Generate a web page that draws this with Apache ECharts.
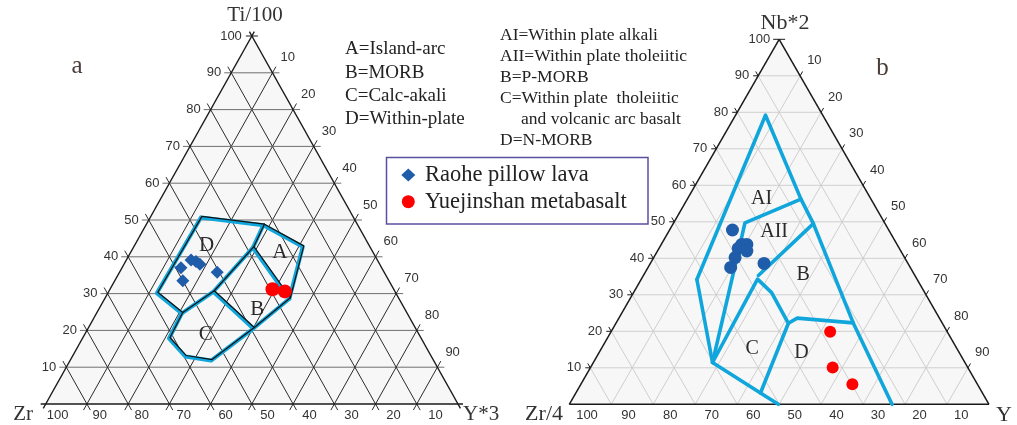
<!DOCTYPE html>
<html><head><meta charset="utf-8">
<script src="https://cdn.jsdelivr.net/npm/echarts/dist/echarts.min.js"></script>
<style>html,body{margin:0;padding:0;background:#fff}#c{width:1017px;height:425px}</style>
</head><body><div id="c"></div>
<script>
// ---------- tick values ----------
const gridTicks = [10, 20, 30, 40, 50, 60, 70, 80, 90];
const topEdgeLabels = [100, 90, 80, 70, 60, 50, 40, 30, 20, 10];   // apex component (left edge)
const rightEdgeLabels = [10, 20, 30, 40, 50, 60, 70, 80, 90];      // right-vertex component (right edge)
const bottomLabels = [100, 90, 80, 70, 60, 50, 40, 30, 20, 10];     // left-vertex component (bottom)

// ---------- diagram a : [Ti/100, Zr, Y*3] ----------
const aOutline = [[50.7,37.0,12.3],[48.6,22.9,28.5],[42.7,16.3,41.0],[28.6,26.6,44.8],[20.5,39.4,40.1],[11.8,54.0,34.2],[12.9,59.7,27.4],[17.8,61.2,21.0],[24.6,54.7,20.7],[30.1,58.0,11.9],[50.7,37.0,12.3]];
const aBoundaryA = [[48.6,22.9,28.5],[42.5,28.5,29.0],[28.6,26.6,44.8]];
const aBoundaryD = [[42.5,28.5,29.0],[30.5,44.1,25.4],[24.6,54.7,20.7]];
const aBoundaryBC = [[30.5,44.1,25.4],[20.5,39.4,40.1]];
const aRaohe = [[37.0,48.7,14.3],[33.5,50.0,16.5],[39.1,45.2,15.7],[38.7,44.2,17.1],[38.0,43.6,18.4],[35.8,40.5,23.7]];
const aYuejinshan = [[31.2,29.4,39.4],[30.6,26.7,42.7]];
const aRegionNames = ['D', 'A', 'B', 'C'];
const aRegionPos = [[43.2,39.35,17.45],[41.2,22.6,36.2],[25.8,35.8,38.4],[19.0,51.7,29.3]];

// ---------- diagram b : [Nb*2, Zr/4, Y] ----------
const bLine1 = [[34.2,52.5,13.3],[79.2,13.65,7.15],[56.2,16.7,27.1],[49.5,17.1,33.4],[22.3,21.2,56.5],[0,23.1,76.9]];
const bLine2 = [[34.2,52.5,13.3],[11.45,60.15,28.4],[3.1,52.9,44.0],[0,50.2,49.8]];
const bLine3 = [[56.2,16.7,27.1],[49.7,33.3,17.0],[45.4,36.3,18.3],[11.45,60.15,28.4]];
const bLine4 = [[49.5,17.1,33.4],[35.3,37.3,27.4]];
const bLine5 = [[11.45,60.15,28.4],[34.3,38.0,27.7],[30.6,36.5,32.9],[22.2,36.7,41.1],[3.1,52.9,44.0]];
const bLine6 = [[22.2,36.7,41.1],[23.6,33.9,42.5],[22.3,21.2,56.5]];
const bRaohe = [[47.75,37.25,15.0],[43.8,37.0,19.2],[43.8,35.8,20.4],[42.0,36.7,21.3],[42.7,38.4,18.9],[40.2,40.4,19.4],[37.5,42.8,19.7],[38.6,34.3,27.1]];
const bYuejinshan = [[19.9,27.9,52.2],[10.1,32.2,57.7],[5.5,29.8,64.7]];
const bRegionNames = ['AI', 'AII', 'B', 'C', 'D'];
const bRegionPos = [[56.2,26.1,17.7],[47.2,27.6,25.2],[35.5,26.5,38.0],[15.2,48.8,36.0],[14.05,37.65,48.3]];

// ---------- helpers ----------
const toXY = p => [p[2] + p[0] / 2, p[0]];
const SANS = '"Liberation Sans", Arial, sans-serif';
const SERIF = '"Liberation Serif", "Times New Roman", serif';

function extendSeg(p, q, e1, e2) {
  const dx = q[0] - p[0], dy = q[1] - p[1], L = Math.hypot(dx, dy) || 1;
  const ux = dx / L, uy = dy / L;
  return [[p[0] - ux * e1, p[1] - uy * e1], [q[0] + ux * e2, q[1] + uy * e2]];
}
function segEl(a, b, color, w) {
  return { type: 'line', shape: { x1: a[0], y1: a[1], x2: b[0], y2: b[1] }, style: { stroke: color, lineWidth: w } };
}
function txt(x, y, s, font, fill, align, valign) {
  return { type: 'text', x: x, y: y, style: { text: s, font: font, fill: fill, align: align, textAlign: align, verticalAlign: valign, textVerticalAlign: valign } };
}

function frameSeries(idx, cfg) {
  return {
    type: 'custom', coordinateSystem: 'cartesian2d', xAxisIndex: idx, yAxisIndex: idx,
    silent: true, clip: false, z: 1, data: [[50, 50]],
    renderItem: function (params, api) {
      const P = (t, r) => api.coord([r + t / 2, t]);
      const ch = [];
      const A = P(100, 0), B = P(0, 0), C = P(0, 100);
      ch.push({ type: 'polygon', shape: { points: [A, B, C] }, style: { fill: '#f7f7f7' } });
      gridTicks.forEach(t => {
        const segs = [
          [P(t, 0), P(t, 100 - t), cfg.hColor],
          [P(100 - t, t), P(0, t), cfg.tColor],
          [P(100 - t, 0), P(0, 100 - t), cfg.tColor]
        ];
        segs.forEach(s => {
          if (cfg.ext) {
            const e = extendSeg(s[0], s[1], cfg.ext, cfg.ext);
            ch.push(segEl(e[0], e[1], s[2], cfg.gw));
          } else {
            ch.push(segEl(s[0], s[1], s[2], cfg.gw));
            const h = extendSeg(s[0], s[1], cfg.tick, 0);
            ch.push(segEl(h[0], s[0], cfg.edge, 1));
          }
        });
      });
      [[A, B], [B, C], [C, A]].forEach(s => {
        const e = extendSeg(s[0], s[1], cfg.ext ? 5 : 0, cfg.ext ? 5 : 0);
        ch.push(segEl(e[0], e[1], cfg.edge, cfg.ew));
      });
      ch.push(segEl([A[0] - 6, A[1]], [A[0] + 6, A[1]], cfg.edge, 1));
      topEdgeLabels.forEach(v => {
        const p = P(v, 0);
        ch.push(txt(p[0] + cfg.lOff, p[1], String(v), '13px ' + SANS, '#333', 'right', 'middle'));
      });
      rightEdgeLabels.forEach(v => {
        const p = P(100 - v, v);
        ch.push(txt(p[0] + cfg.rOff[0], p[1] + cfg.rOff[1], String(v), '13px ' + SANS, '#333', 'left', 'middle'));
      });
      bottomLabels.forEach(v => {
        const p = P(0, 100 - v);
        const k = (100 - v) / 10;
        ch.push(txt(p[0] + cfg.bOff[0] + cfg.bOff[2] * k, p[1] + cfg.bOff[1], String(v), '13px ' + SANS, '#333', 'center', 'middle'));
      });
      return { type: 'group', children: ch };
    }
  };
}

function linesSeries(idx, lines, color, width, dx, dy, z) {
  return {
    type: 'custom', coordinateSystem: 'cartesian2d', xAxisIndex: idx, yAxisIndex: idx,
    silent: true, clip: false, z: z, data: lines.map(() => [50, 50]),
    renderItem: function (params, api) {
      const pts = lines[params.dataIndex].map(p => { const c = api.coord(toXY(p)); return [c[0] + dx, c[1] + dy]; });
      return { type: 'polyline', shape: { points: pts }, style: { stroke: color, lineWidth: width, fill: 'none', lineJoin: 'round', lineCap: 'round' } };
    }
  };
}

function labelSeries(idx, names, pos, size) {
  return {
    type: 'custom', coordinateSystem: 'cartesian2d', xAxisIndex: idx, yAxisIndex: idx,
    silent: true, clip: false, z: 4, data: pos.map(p => toXY(p)),
    renderItem: function (params, api) {
      const c = api.coord([api.value(0), api.value(1)]);
      return txt(c[0], c[1], names[params.dataIndex], size + 'px ' + SERIF, '#2a2a2a', 'center', 'middle');
    }
  };
}

function scatter(idx, name, pts, symbol, size, color) {
  return {
    type: 'scatter', name: name, xAxisIndex: idx, yAxisIndex: idx, z: 5,
    symbol: symbol, symbolSize: size, itemStyle: { color: color, opacity: 1 },
    data: pts.map(p => toXY(p)), silent: true
  };
}

const BLUE_LINE = '#10a6dc';
const BLUE_PT = '#1f5dab';
const RED_PT = '#ff0000';

const option = {
  animation: false,
  grid: [
    { left: 45.7, top: 36, width: 412.3, height: 368 },
    { left: 569.3, top: 39.3, width: 419.7, height: 365 }
  ],
  xAxis: [
    { gridIndex: 0, type: 'value', min: 0, max: 100, show: false },
    { gridIndex: 1, type: 'value', min: 0, max: 100, show: false }
  ],
  yAxis: [
    { gridIndex: 0, type: 'value', min: 0, max: 100, show: false },
    { gridIndex: 1, type: 'value', min: 0, max: 100, show: false }
  ],
  series: [
    frameSeries(0, { hColor: '#6e6e6e', tColor: '#2b2b2b', gw: 1, ext: 7, edge: '#1a1a1a', ew: 1.3, lOff: -10, rOff: [8, -15], bOff: [12, 11, 0.75] }),
    frameSeries(1, { hColor: '#cfcfcf', tColor: '#cfcfcf', gw: 1, ext: 0, tick: 5, edge: '#1a1a1a', ew: 1.5, lOff: -9, rOff: [7, -15], bOff: [17.7, 11, -0.4] }),
    linesSeries(0, [aOutline, aBoundaryA, aBoundaryD, aBoundaryBC], BLUE_LINE, 4, 0, 0, 2),
    linesSeries(0, [aOutline, aBoundaryA, aBoundaryD, aBoundaryBC], '#111', 1.2, 1, -1, 3),
    linesSeries(1, [bLine1, bLine2, bLine3, bLine4, bLine5, bLine6], BLUE_LINE, 3.6, 0, 0, 2),
    labelSeries(0, aRegionNames, aRegionPos, 21),
    labelSeries(1, bRegionNames, bRegionPos, 20),
    scatter(0, 'Raohe pillow lava', aRaohe, 'diamond', 13, BLUE_PT),
    scatter(0, 'Yuejinshan metabasalt', aYuejinshan, 'circle', 14, RED_PT),
    scatter(1, 'Raohe pillow lava', bRaohe, 'circle', 13, BLUE_PT),
    scatter(1, 'Yuejinshan metabasalt', bYuejinshan, 'circle', 12, RED_PT)
  ],
  graphic: [
    txt(255, 15, 'Ti/100', '21px ' + SERIF, '#333', 'center', 'middle'),
    txt(33, 414, 'Zr', '21px ' + SERIF, '#333', 'right', 'middle'),
    txt(463, 414, 'Y*3', '21px ' + SERIF, '#333', 'left', 'middle'),
    txt(785, 23, 'Nb*2', '22px ' + SERIF, '#333', 'center', 'middle'),
    txt(563, 414, 'Zr/4', '22px ' + SERIF, '#333', 'right', 'middle'),
    txt(996, 415, 'Y', '22px ' + SERIF, '#333', 'left', 'middle'),
    txt(77, 66, 'a', '25px ' + SERIF, '#4a3c37', 'center', 'middle'),
    txt(882.5, 68, 'b', '25px ' + SERIF, '#4a3c37', 'center', 'middle'),
    txt(345, 49.3, 'A=Island-arc', '19px ' + SERIF, '#222', 'left', 'middle'),
    txt(345, 72.6, 'B=MORB', '19px ' + SERIF, '#222', 'left', 'middle'),
    txt(345, 95.9, 'C=Calc-akali', '19px ' + SERIF, '#222', 'left', 'middle'),
    txt(345, 119.2, 'D=Within-plate', '19px ' + SERIF, '#222', 'left', 'middle'),
    txt(500, 35.3, 'AI=Within plate alkali', '17.5px ' + SERIF, '#222', 'left', 'middle'),
    txt(500, 56.5, 'AII=Within plate tholeiitic', '17.5px ' + SERIF, '#222', 'left', 'middle'),
    txt(500, 77.7, 'B=P-MORB', '17.5px ' + SERIF, '#222', 'left', 'middle'),
    txt(500, 98.8, 'C=Within plate  tholeiitic', '17.5px ' + SERIF, '#222', 'left', 'middle'),
    txt(521, 119.6, 'and volcanic arc basalt', '17.5px ' + SERIF, '#222', 'left', 'middle'),
    txt(500, 140.7, 'D=N-MORB', '17.5px ' + SERIF, '#222', 'left', 'middle'),
    { type: 'rect', shape: { x: 386.5, y: 157.5, width: 261.5, height: 66.5 }, style: { fill: '#fff', stroke: '#5a50a0', lineWidth: 1.5 }, z: 10 },
    { type: 'polygon', shape: { points: [[408.3, 168.5], [415.3, 175], [408.3, 181.5], [401.3, 175]] }, style: { fill: BLUE_PT }, z: 11 },
    { type: 'circle', shape: { cx: 408.3, cy: 201.7, r: 6.5 }, style: { fill: RED_PT }, z: 11 },
    Object.assign(txt(425, 175, 'Raohe pillow lava', '22.5px ' + SERIF, '#222', 'left', 'middle'), { z: 11 }),
    Object.assign(txt(425, 201.7, 'Yuejinshan metabasalt', '22.5px ' + SERIF, '#222', 'left', 'middle'), { z: 11 })
  ]
};

const chart = echarts.init(document.getElementById('c'), null, { renderer: 'canvas' });
chart.setOption(option);
</script>
</body></html>
